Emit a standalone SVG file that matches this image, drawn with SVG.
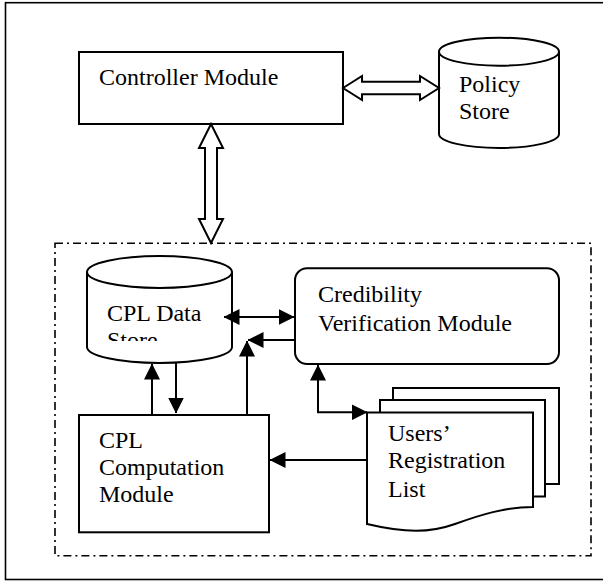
<svg xmlns="http://www.w3.org/2000/svg" width="603" height="581" viewBox="0 0 603 581">
<style>
.shape{fill:#fff;stroke:#000;stroke-width:2}
.line{fill:none;stroke:#000;stroke-width:2}
.lbl{font-family:"Liberation Serif","Times New Roman",serif;font-size:24px;fill:#000}
</style>
<defs>
<marker id="ah" markerUnits="userSpaceOnUse" markerWidth="16" markerHeight="16" refX="15.5" refY="8" orient="auto-start-reverse" viewBox="0 0 16 16">
<path d="M0,0 L16,8 L0,16 Z" fill="#000"/>
</marker>
<clipPath id="clipStore"><rect x="80" y="250" width="160" height="91"/></clipPath>
</defs>
<rect width="603" height="581" fill="#fff"/>
<rect id="frame" x="5.5" y="2.7" width="600" height="576.8" fill="none" stroke="#000" stroke-width="1.6"/>
<rect id="group-box" x="55" y="243.3" width="536" height="312.4" fill="none" stroke="#000" stroke-width="1.6" stroke-dasharray="8 4 2 4"/>

<g id="controller">
<rect class="shape" x="79" y="52" width="264" height="72"/>
<text class="lbl" x="99" y="85">Controller Module</text>
</g>

<g id="policy-store">
<path class="shape" d="M439,51.7 V134 A60,14 0 0 0 559,134 V51.7"/>
<ellipse class="shape" cx="499" cy="51.7" rx="60" ry="14"/>
<text class="lbl" x="459" y="92">Policy</text>
<text class="lbl" x="459" y="119">Store</text>
</g>

<g id="cpl-data-store">
<path class="shape" d="M87,272 V347 A72.5,16 0 0 0 232,347 V272"/>
<ellipse class="shape" cx="159.5" cy="272" rx="72.5" ry="16"/>
<g clip-path="url(#clipStore)">
<text class="lbl" x="107" y="321">CPL Data</text>
<text class="lbl" x="107" y="348">Store</text>
</g>
</g>

<g id="credibility">
<rect class="shape" x="295" y="268.3" width="264" height="95.7" rx="12" ry="12"/>
<text class="lbl" x="318" y="302">Credibility</text>
<text class="lbl" x="318" y="331">Verification Module</text>
</g>

<g id="cpl-computation">
<rect class="shape" x="79" y="415" width="190" height="117.3"/>
<text class="lbl" x="99" y="448">CPL</text>
<text class="lbl" x="99" y="475">Computation</text>
<text class="lbl" x="99" y="502">Module</text>
</g>

<g id="users-registration">
<path class="shape" d="M393,400 V388 H559 V484 H545"/>
<path class="shape" d="M380,412 V400 H545 V496.5 H533"/>
<path class="shape" d="M367,412.5 H533 V507 C505,507 480,515 455,524 C430,533 405,533 367,524 Z"/>
<text class="lbl" x="388" y="441">Users’</text>
<text class="lbl" x="388" y="468">Registration</text>
<text class="lbl" x="388" y="497">List</text>
</g>

<g id="connectors">
<polygon class="shape" points="343,88 362,76 362,81.7 420,81.7 420,76 439,88 420,100 420,94.3 362,94.3 362,100"/>
<polygon class="shape" points="211,124 223,148 217,148 217,219 223,219 211,243 199,219 205,219 205,148 199,148"/>
<path class="line" d="M224,317 H294" marker-start="url(#ah)" marker-end="url(#ah)"/>
<path class="line" d="M295,340 H248" marker-end="url(#ah)"/>
<path class="line" d="M247,415 V341" marker-end="url(#ah)"/>
<path class="line" d="M152,415 V364" marker-end="url(#ah)"/>
<path class="line" d="M176,363 V413" marker-end="url(#ah)"/>
<path class="line" d="M318,365 V412.3 H367" marker-start="url(#ah)" marker-end="url(#ah)"/>
<path class="line" d="M367,460 H270" marker-end="url(#ah)"/>
</g>
</svg>
